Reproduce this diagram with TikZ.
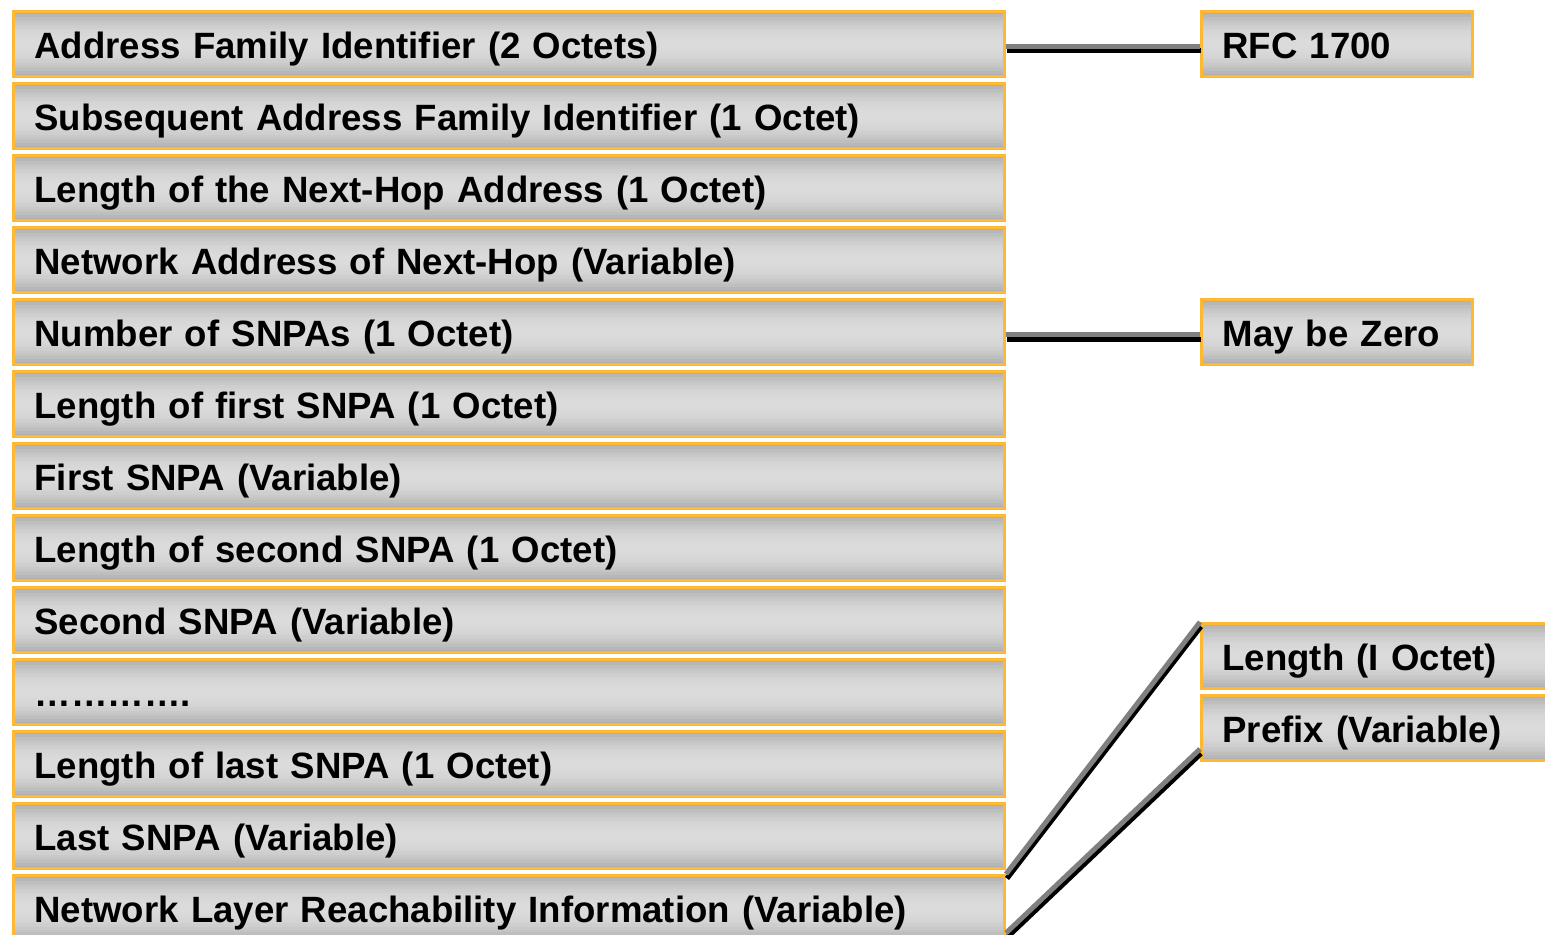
\documentclass[tikz,border=0pt]{standalone}
\usepackage{fontspec}
\setmainfont{Liberation Sans}
\usetikzlibrary{calc}
\definecolor{boxorange}{RGB}{255,184,52}
\newcommand{\fieldfont}{\fontsize{18.3}{22}\selectfont\bfseries}
% grey bands, dark at top and bottom, light in the middle
\newcommand{\bandfill}{%
  \foreach \k in {0,...,23}{%
    \pgfmathsetmacro{\shade}{14+17*((\k-11.5)/11.5)^2}%
    \fill[black!\shade] ($(path picture bounding box.north west)!{\k/24}!(path picture bounding box.south west)$)
      rectangle ($(path picture bounding box.north east)!{(\k+1.1)/24}!(path picture bounding box.south east)$);}}
\tikzset{
  field/.style={draw=boxorange, line width=1.5pt, path picture={\bandfill},
    minimum height=32.5pt, inner ysep=0pt, inner xsep=10.5pt,
    text height=16pt, text depth=1.5pt,
    text width=#1, align=left, font=\fieldfont, anchor=north west},
  field/.default=474.5pt,
  link/.style={draw=black!50, line width=2.5pt,
    preaction={draw=black, line width=2.5pt,
      transform canvas={xshift=0.5pt,yshift=-2.25pt}}}
}
\begin{document}
\begin{tikzpicture}[x=0.5pt,y=-0.5pt]
\useasboundingbox (0,0) rectangle (1545,935);
\foreach \t [count=\n] in {
Address Family Identifier (2 Octets),
Subsequent Address Family Identifier (1 Octet),
Length of the Next-Hop Address (1 Octet),
Network Address of Next-Hop (Variable),
Number of SNPAs (1 Octet),
Length of first SNPA (1 Octet),
First SNPA (Variable),
Length of second SNPA (1 Octet),
Second SNPA (Variable),
{…………. },
Length of last SNPA (1 Octet),
Last SNPA (Variable),
Network Layer Reachability Information (Variable)
} {
\node[field] (f\n) at (12, {10+72*(\n-1)}) {\t};
}
% notes on the right
\node[field=114.5pt] (rfc) at (1200,10) {RFC 1700};
\node[field=114.5pt] (zero) at (1200,298) {May be Zero};
\node[field=159pt] (len) at (1200,622) {Length (I Octet)};
\node[field=159pt] (prefix) at (1200,694) {Prefix (Variable)};
\coordinate (nl) at ([yshift=4.5pt]f13.south east);
\coordinate (pf) at ([yshift=6.5pt]prefix.south west);
\draw[link] ([yshift=-1.25pt]f1.east) -- ([yshift=-1.25pt]rfc.west);
\draw[link] ([yshift=-1.25pt]f5.east) -- ([yshift=-1.25pt]zero.west);
\draw[link] (f13.north east) -- (len.north west);
\draw[link] (nl) -- (pf);
\end{tikzpicture}
\end{document}
